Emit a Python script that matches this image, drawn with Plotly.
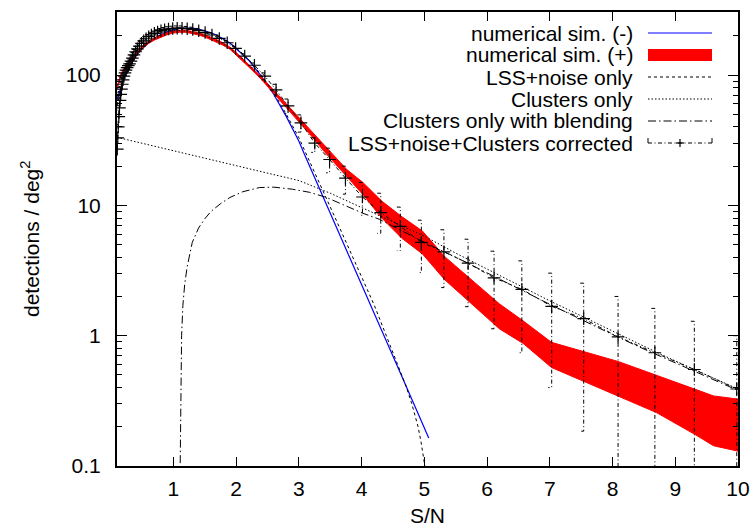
import plotly.graph_objects as go

# ---------------- data ----------------
# numerical sim. (-)
sn_minus = [0.1, 0.15, 0.2, 0.3, 0.4, 0.5, 0.6, 0.7, 0.8, 0.9, 1.0, 1.1, 1.2, 1.3, 1.4, 1.5,
            1.6, 1.7, 1.8, 1.9, 2.0, 2.2, 2.4, 2.6, 2.8, 3.0, 3.1, 3.2, 3.3, 3.4, 3.5, 3.6,
            3.8, 4.0, 4.2, 4.4, 4.6, 4.8, 5.0, 5.07]
sim_minus = [64, 78, 92, 118, 140, 160, 177, 192, 205, 215, 223, 228, 230, 229, 225, 219,
             211, 201, 189, 176, 160, 130, 98, 71, 48, 31, 23.9, 18.6, 14.4, 11.2, 8.7, 6.8,
             4.1, 2.46, 1.48, 0.9, 0.54, 0.325, 0.196, 0.164]

# numerical sim. (+) : band lower / upper
sn_plus = [0.1, 0.15, 0.2, 0.3, 0.4, 0.5, 0.6, 0.7, 0.8, 0.9, 1.0, 1.1, 1.2, 1.3, 1.4, 1.5,
           1.6, 1.7, 1.8, 1.9, 2.0, 2.2, 2.4, 2.6, 2.8, 3.0, 3.2, 3.4, 3.6, 3.76, 4.02, 4.32,
           4.64, 4.97, 5.32, 6.2, 6.574, 7.027, 8.09, 8.70, 9.31, 9.61, 10.0]
sim_plus_lo = [77.5, 94, 106, 124.5, 143, 160, 174.5, 186, 196, 204, 210, 213, 213, 209, 203, 196,
               187, 178, 168.5, 158, 143, 115.5, 92.8, 72.5, 56.6, 43.9, 34.0, 26.0, 20.3, 16.4, 12.1, 8.0,
               5.6, 4.24, 2.7, 1.125, 0.873, 0.570, 0.345, 0.257, 0.175, 0.143, 0.130]
sim_plus_hi = [80.5, 98, 110, 129.5, 149, 166, 181.5, 194, 204, 212, 218, 221, 221, 217, 211, 204,
               195, 186, 175.5, 164, 149, 120.5, 97.2, 76.5, 60.2, 47.1, 37.1, 28.9, 23.0, 18.9, 15.0, 10.8,
               8.2, 6.35, 4.06, 1.75, 1.30, 0.889, 0.634, 0.50, 0.389, 0.345, 0.326]

# LSS+noise only
sn_lss = [0.1, 0.15, 0.2, 0.3, 0.4, 0.5, 0.6, 0.7, 0.8, 0.9, 1.0, 1.1, 1.2, 1.3, 1.4, 1.5,
          1.6, 1.7, 1.8, 1.9, 2.0, 2.2, 2.4, 2.6, 2.8, 3.0, 3.2, 3.4, 3.6, 3.8, 4.0, 4.2,
          4.4, 4.6, 4.7, 4.8, 4.9, 4.95, 5.0, 5.03]
lss_only = [58, 74, 89, 115, 138, 158, 176, 191, 204, 214, 221, 226, 228, 227, 223, 217,
            209, 200, 189, 176, 162, 132, 100, 73, 50, 33, 20, 12.4, 7.6, 4.6, 2.8, 1.72,
            0.98, 0.57, 0.42, 0.3, 0.2, 0.15, 0.105, 0.085]

# Clusters only
sn_cl = [0.1, 0.5, 1.0, 1.5, 2.0, 2.5, 3.0, 3.5, 4.0, 4.5, 5.0, 5.5, 6.0, 6.5, 7.0, 7.5,
         8.0, 8.5, 9.0, 9.5, 10.0]
clusters_only = [33.3, 30.0, 26.3, 23.0, 20.2, 17.7, 15.5, 12.4, 9.6, 7.5, 5.8, 4.3, 3.25, 2.45, 1.85, 1.42,
                 1.08, 0.83, 0.64, 0.5, 0.39]

# Clusters only with blending
sn_bl = [1.105, 1.11, 1.12, 1.13, 1.15, 1.18, 1.22, 1.27, 1.3, 1.4, 1.5, 1.6, 1.75, 1.9, 2.1, 2.37,
         2.6, 2.9, 3.17, 3.44, 3.7, 4.02, 4.29, 4.6, 5.0, 5.5, 6.0, 6.5, 7.0, 7.5, 8.0, 8.5,
         9.0, 9.5, 10.0]
clusters_blend = [0.08, 0.2, 0.5, 1.0, 1.7, 2.5, 3.4, 4.5, 5.2, 6.7, 7.9, 9.0, 10.3, 11.5, 12.7, 13.7,
                  13.8, 13.3, 12.6, 11.5, 10.2, 8.7, 7.8, 6.5, 5.2, 4.0, 3.05, 2.3, 1.74, 1.33, 1.02, 0.79,
                  0.62, 0.48, 0.38]

# LSS+noise+Clusters corrected (points with error bars)
sn_corr = [0.105, 0.112, 0.120, 0.129, 0.139, 0.149, 0.160, 0.171, 0.184, 0.197, 0.211, 0.227,
           0.243, 0.261, 0.280, 0.300, 0.322, 0.345, 0.370, 0.397, 0.426, 0.457, 0.490, 0.526,
           0.564, 0.605, 0.649, 0.696, 0.747, 0.801, 0.859, 0.921, 0.988, 1.060, 1.137, 1.219,
           1.308, 1.403, 1.505, 1.614, 1.731, 1.857, 1.991, 2.136, 2.291, 2.457, 2.636, 2.827,
           3.032, 3.253, 3.489, 3.742, 4.013, 4.305, 4.617, 4.952, 5.312, 5.697, 6.111, 6.554,
           7.030, 7.540, 8.088, 8.675, 9.304, 9.98]
corr = [27, 33, 40, 48, 56, 64, 71, 78, 85, 92, 98, 104,
        109, 114, 118, 122, 128, 135, 143, 151, 159, 167, 175, 183,
        190, 197, 203, 209, 214, 219, 223, 226, 228, 229, 229, 227,
        224, 219, 212, 203, 191, 177, 160, 140, 119, 98, 77, 58,
        43, 30, 22.5, 16.2, 11.6, 8.8, 6.9, 5.2, 4.4, 3.6, 2.78, 2.27,
        1.68, 1.35, 0.98, 0.74, 0.55, 0.39]
corr_lo = [26, 31.7, 38.4, 46, 53.8, 61.4, 68.2, 74.9, 81.6, 88.3, 94, 99.8,
           104.6, 109.4, 113.3, 117.1, 122.9, 129.6, 137.3, 145, 152.6, 160.3, 168, 175.7,
           182.4, 189.1, 194.9, 200.6, 205.4, 210.2, 214.1, 217, 218.9, 219.8, 219.8, 217.9,
           215, 210.2, 203.5, 194.9, 183.4, 169.9, 153.6, 134.4, 114.2, 92, 69, 50.5,
           36.5, 25.5, 17.8, 12.2, 8.4, 6.1, 4.5, 3.05, 2.34, 1.67, 1.13, 0.74,
           0.40, 0.185, 0.01, 0.01, 0.01, 0.01]
corr_hi = [28, 34.3, 41.6, 50, 58.2, 66.6, 73.8, 81.1, 88.4, 95.7, 102, 108.2,
           113.4, 118.6, 122.7, 126.9, 133.1, 140.4, 148.7, 157, 165.4, 173.7, 182, 190.3,
           197.6, 204.9, 211.1, 217.4, 222.6, 227.8, 231.9, 235, 237.1, 238.2, 238.2, 236.1,
           233, 227.8, 220.5, 211.1, 198.6, 184.1, 166.4, 145.6, 123.8, 104, 85, 65.5,
           49.5, 33, 27.5, 20, 15, 12.4, 9.7, 7.7, 6.5, 5.5, 4.45, 3.75,
           3.02, 2.53, 2.0, 1.62, 1.29, 1.0]

# tick labels
x_ticks = [1, 2, 3, 4, 5, 6, 7, 8, 9, 10]
y_ticks = [0.1, 1, 10, 100]
y_ticktext = ["0.1", "1", "10", "100"]
y_minor = [0.2, 0.3, 0.4, 0.5, 0.6, 0.7, 0.8, 0.9, 2, 3, 4, 5, 6, 7, 8, 9,
           20, 30, 40, 50, 60, 70, 80, 90, 200, 300]

legend_labels = ["numerical sim. (-)", "numerical sim. (+)", "LSS+noise only",
                 "Clusters only", "Clusters only with blending",
                 "LSS+noise+Clusters corrected"]

# ---------------- layout constants ----------------
W, H = 753, 528
L, R, T, B = 117, 738, 12, 466
FONT = "Liberation Sans, Arial, Helvetica, sans-serif"
FS = 21

DASH_LSS = "3px,3px"
DASH_CL = "1.5px,2px"
DASH_BL = "8px,3px,1.5px,3px"
DASH_CORR = "4px,2.5px,1px,2.5px"
CAP = 0.056  # error bar cap length in S/N units (~3.5 px)


def px(xp):
    return (xp - L) / (R - L)


def py(yp):
    return (B - yp) / (B - T)


fig = go.Figure()

# numerical sim (-)
fig.add_trace(go.Scatter(x=sn_minus, y=sim_minus, mode="lines",
                         line=dict(color="#0000ff", width=1.2), showlegend=False))
# numerical sim (+) band
fig.add_trace(go.Scatter(x=sn_plus, y=sim_plus_lo, mode="lines",
                         line=dict(color="#ff0000", width=1), showlegend=False))
fig.add_trace(go.Scatter(x=sn_plus, y=sim_plus_hi, mode="lines", fill="tonexty",
                         fillcolor="#ff0000", line=dict(color="#ff0000", width=1),
                         showlegend=False))
# LSS+noise only
fig.add_trace(go.Scatter(x=sn_lss, y=lss_only, mode="lines",
                         line=dict(color="black", width=1, dash=DASH_LSS), showlegend=False))
# Clusters only
fig.add_trace(go.Scatter(x=sn_cl, y=clusters_only, mode="lines",
                         line=dict(color="black", width=1, dash=DASH_CL), showlegend=False))
# Clusters only with blending
fig.add_trace(go.Scatter(x=sn_bl, y=clusters_blend, mode="lines",
                         line=dict(color="black", width=1, dash=DASH_BL), showlegend=False))

# corrected: error bars as dash-dot paths with left caps
ex, ey = [], []
for xv, lo, hi in zip(sn_corr, corr_lo, corr_hi):
    ex += [xv - CAP, xv, xv, xv - CAP, None]
    ey += [hi, hi, lo, lo, None]
fig.add_trace(go.Scatter(x=ex, y=ey, mode="lines",
                         line=dict(color="black", width=1, dash=DASH_CORR),
                         showlegend=False, hoverinfo="skip"))
# corrected: connecting line + markers
fig.add_trace(go.Scatter(x=sn_corr, y=corr, mode="lines+markers",
                         line=dict(color="black", width=1, dash=DASH_CORR),
                         marker=dict(symbol="cross-thin", size=9,
                                     line=dict(color="black", width=1.2)),
                         showlegend=False))

# ---------------- legend (manual, gnuplot style) ----------------
rows = [33, 55, 77, 99, 121, 143]
shapes = []
annotations = []
for lab, yr in zip(legend_labels, rows):
    annotations.append(dict(x=px(635), y=py(yr), xref="paper", yref="paper",
                            text=lab, showarrow=False, xanchor="right", yanchor="middle",
                            font=dict(family=FONT, size=FS, color="black")))
s0, s1 = px(648), px(712)
shapes.append(dict(type="line", xref="paper", yref="paper", x0=s0, x1=s1,
                   y0=py(rows[0]), y1=py(rows[0]), line=dict(color="#0000ff", width=1.2)))
shapes.append(dict(type="rect", xref="paper", yref="paper", x0=s0, x1=s1,
                   y0=py(rows[1] + 6), y1=py(rows[1] - 6), line=dict(width=0),
                   fillcolor="#ff0000"))
shapes.append(dict(type="line", xref="paper", yref="paper", x0=s0, x1=s1,
                   y0=py(rows[2]), y1=py(rows[2]), line=dict(color="black", width=1, dash=DASH_LSS)))
shapes.append(dict(type="line", xref="paper", yref="paper", x0=s0, x1=s1,
                   y0=py(rows[3]), y1=py(rows[3]), line=dict(color="black", width=1, dash=DASH_CL)))
shapes.append(dict(type="line", xref="paper", yref="paper", x0=s0, x1=s1,
                   y0=py(rows[4]), y1=py(rows[4]), line=dict(color="black", width=1, dash=DASH_BL)))
yc = rows[5]
shapes.append(dict(type="line", xref="paper", yref="paper", x0=s0, x1=s1,
                   y0=py(yc), y1=py(yc), line=dict(color="black", width=1, dash=DASH_CORR)))
for xe in (648, 712):
    shapes.append(dict(type="line", xref="paper", yref="paper", x0=px(xe), x1=px(xe),
                       y0=py(yc), y1=py(yc - 5), line=dict(color="black", width=1)))
shapes.append(dict(type="line", xref="paper", yref="paper", x0=px(676), x1=px(684),
                   y0=py(yc), y1=py(yc), line=dict(color="black", width=1.2)))
shapes.append(dict(type="line", xref="paper", yref="paper", x0=px(680), x1=px(680),
                   y0=py(yc - 4), y1=py(yc + 4), line=dict(color="black", width=1.2)))

# axis titles
annotations.append(dict(x=0.5, y=py(515), xref="paper", yref="paper", text="S/N",
                        showarrow=False, xanchor="center", yanchor="middle",
                        font=dict(family=FONT, size=FS, color="black")))
annotations.append(dict(x=px(30), y=py(239), xref="paper", yref="paper",
                        text="detections / deg<sup>2</sup>", textangle=-90,
                        showarrow=False, xanchor="center", yanchor="middle",
                        font=dict(family=FONT, size=FS, color="black")))

fig.update_layout(
    width=W, height=H,
    margin=dict(l=L, r=W - R, t=T, b=H - B, pad=0, autoexpand=False),
    paper_bgcolor="white", plot_bgcolor="white",
    font=dict(family=FONT, size=FS, color="black"),
    showlegend=False,
    shapes=shapes, annotations=annotations,
    xaxis=dict(range=[0.1, 10], tickmode="array", tickvals=x_ticks,
               ticks="inside", ticklen=9, tickwidth=1, tickcolor="black",
               showline=True, linewidth=2, linecolor="black", mirror="allticks",
               showgrid=False, zeroline=False, ticklabelstandoff=3, automargin=False,
               tickfont=dict(family=FONT, size=FS, color="black")),
    yaxis=dict(type="log", range=[-1, 2.484], tickmode="array", tickvals=y_ticks,
               ticktext=y_ticktext, automargin=False,
               ticks="inside", ticklen=10, tickwidth=1, tickcolor="black",
               showline=True, linewidth=2, linecolor="black", mirror="allticks",
               showgrid=False, zeroline=False, ticklabelstandoff=10,
               minor=dict(tickmode="array", tickvals=y_minor, ticks="inside",
                          ticklen=5, tickwidth=1, tickcolor="black", showgrid=False),
               tickfont=dict(family=FONT, size=FS, color="black")),
)

fig.write_html("out.html")
